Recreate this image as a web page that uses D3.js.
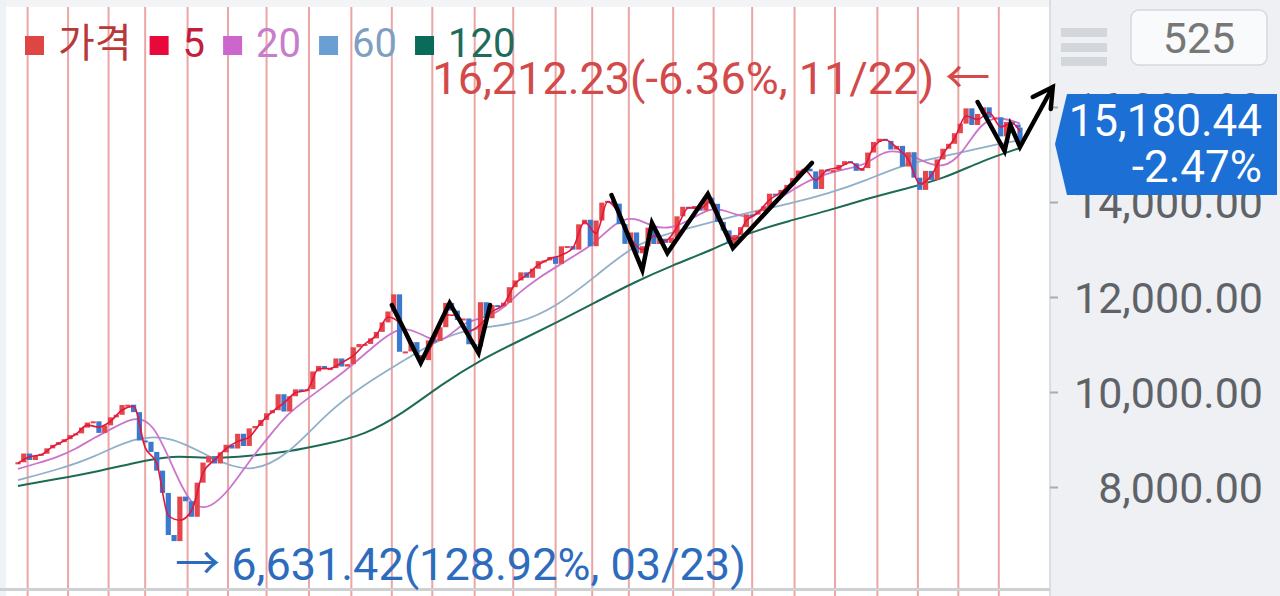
<!DOCTYPE html>
<html><head><meta charset="utf-8">
<script src="https://cdn.jsdelivr.net/npm/d3@7"></script>
<style>
html,body{margin:0;padding:0;background:#fff;overflow:hidden;}
svg{display:block;font-family:Roboto,"Noto Sans CJK KR",sans-serif;}
</style></head><body>
<svg id="c" width="1280" height="596"></svg>
<script>
// ---------- data (trading-day index, 0 = 2019-11-22, 520 = 2021-12-16) ----------
const closes = [8520,8705,8568,8656,8700,8814,8887,8945,9006,9092,9129,9250,9357,9383,9139,9298,9467,9520,9725,9733,9576,8980,8952,8738,8344,7875,6989,6861,7798,7700,
7373,8091,8515,8650,8495,8730,8889,8810,9121,8863,9234,9285,9412,9552,9616,9953,9589,9910,10056,10017,10059,10433,10548,10488,10503,10706,10536,10587,
10941,11010,11012,11129,11265,11466,11695,12056,10847,10854,11050,10779,10672,11086,11075,11364,11876,11714,11516,11548,11005,10957,11890,11553,11830,11801,11880,12206,
12349,12519,12406,12595,12755,12771,12843,12698,13067,13072,12998,13530,13626,13070,13610,13987,14025,13965,13533,13119,13359,12920,13069,13459,13116,13227,13139,13247,
13698,13900,13857,13914,13818,14090,13962,13582,13402,13125,13303,13471,13738,13736,13814,13911,14175,14161,14253,14360,14504,14663,14701,14645,14275,14685,14660,14672,
14780,14860,14816,14656,14714,15041,15265,15331,15287,15105,15182,14747,15048,14513,14255,14655,14465,14897,15122,15226,15448,15649,15971,15622,15853,15993,15775,15782,
15381,15687,15630,15566,15180.44];
const closeStep = 3;          // days between sampled candles
const lastDay = 520;
const ma5 = [8500,8636,8678,8850,8975,9110,9303,9261,9382,9622,9700,8830,8500,7400,7300,7500,8300,8570,8810,8960,9050,9350,9585,9770,9983,10038,10490,10495,10620,10764,
11011,11197,11580,11450,10952,10725,11080,11620,11615,11276,11423,11690,11840,12277,12462,12675,12807,12882,13035,13578,13340,14006,13749,13239,12995,13288,13183,13472,
13879,13866,14026,13492,13214,13605,13775,14043,14207,14432,14682,14460,14673,14726,14838,14685,15153,15309,15144,14898,14384,14560,15010,15337,15810,15738,15884,15582,15659,15480];
const ma5Step = 6;
const ma20 = [8380,8500,8620,8800,9050,9250,9480,9380,8450,7550,7550,7950,8550,9050,9550,9850,10150,10450,10800,11150,11400,11200,11000,11450,11550,11680,12100,12400,12650,12900,
13150,13580,13700,13450,13450,13650,13900,13780,13620,13950,14200,14450,14600,14700,14780,15100,15050,14850,14700,15000,15700,15800,15650];
const ma20Step = 10;
const ma60 = [8147,8358,8632,9053,9074,8611,8274,8653,9558,10168,10653,11158,11368,11432,11811,12442,13116,13368,13579,13789,13958,14168,14450,14800,14950,15150,15300];
const ma60Step = 20;
const ma120 = [8021,8168,8316,8505,8674,8590,8653,8737,8905,9095,9558,10168,10674,11074,11474,11895,12316,12674,12989,13368,13600,13811,14063,14274,14484,14863,15137];
const ma120Step = 20;
const monthStartDays = [5,26,47,66,88,109,129,151,173,194,215,237,257,279,298,317,340,361,381,403,424,446,467,488,509];
const yTicks = [8000,10000,12000,14000,16000];
const legendNames = ["가격","5","20","60","120"];
const highPoint = {day:503, value:16212.23, date:"11/22"};
const lowPoint = {day:81, value:6631.42, date:"03/23"};
const lastClose = 15180.44, prevClose = 15565.58;
const visibleCount = "525";
// hand-drawn annotation strokes, as [day, value]
const strokeW1 = [[194,11832],[209,10611],[224,11874],[239,10821],[245,11832]];
const strokeW2 = [[308,14147],[324,12568],[329,13558],[337,12926],[358,14168],[371,13032],[412,14821]];
const strokeW3 = [[498,16105],[512,15074],[515,15621],[520,15158],[537,16421]];

// ---------- setup ----------
const W = 1280, H = 596, panelX = 1050;
const svg = d3.select("#c");
const x = d3.scaleLinear().domain([0, lastDay]).range([18, 1020]);
const y = d3.scaleLinear().domain([8000, 16000]).range([487, 107]);
const loc = d3.formatLocale({decimal:".", thousands:",", grouping:[3], currency:["",""], minus:"-"});
const pct = loc.format(".2f"), num = loc.format(",.2f");

const seriesDays = (arr, step) => arr.map((v,i) => i === arr.length-1 ? lastDay : i*step);
const toPts = (arr, step) => { const d = seriesDays(arr, step); return arr.map((v,i)=>[d[i], v]); };

svg.append("rect").attr("width",W).attr("height",H).attr("fill","#fff");
svg.append("defs").append("clipPath").attr("id","plot").append("rect")
  .attr("x",0).attr("y",0).attr("width",panelX).attr("height",H);

const plot = svg.append("g").attr("clip-path","url(#plot)");
plot.append("rect").attr("x",0).attr("y",0).attr("width",panelX).attr("height",7).attr("fill","#f3f4f6");
plot.append("rect").attr("x",0).attr("y",0).attr("width",6).attr("height",H).attr("fill","#eef1f6");

// month separators
plot.selectAll("line.m").data(monthStartDays).join("line")
  .attr("x1",d=>x(d)).attr("x2",d=>x(d)).attr("y1",7).attr("y2",H)
  .attr("stroke","#eba5a5").attr("stroke-width",2);

// bottom border
plot.append("rect").attr("x",0).attr("y",588).attr("width",panelX).attr("height",3).attr("fill","#cfd0d2");

const line = d3.line().x(d=>x(d[0])).y(d=>y(d[1])).curve(d3.curveMonotoneX);
const lineB = d3.line().x(d=>x(d[0])).y(d=>y(d[1])).curve(d3.curveBasis);
plot.append("path").attr("d",lineB(toPts(ma120,ma120Step))).attr("fill","none").attr("stroke","#1d6b57").attr("stroke-width",2);
plot.append("path").attr("d",lineB(toPts(ma60,ma60Step))).attr("fill","none").attr("stroke","#8fb0c8").attr("stroke-width",1.8);
plot.append("path").attr("d",lineB(toPts(ma20,ma20Step))).attr("fill","none").attr("stroke","#cc74cc").attr("stroke-width",1.8);

// candles
const cDays = seriesDays(closes, closeStep);
const candles = closes.map((c,i)=>({day:cDays[i], open: i? closes[i-1] : c, close:c}));
plot.selectAll("rect.c").data(candles).join("rect")
  .attr("x",d=>x(d.day)-2.6).attr("width",5.2)
  .attr("y",d=>y(Math.max(d.open,d.close)))
  .attr("height",d=>Math.max(2, Math.abs(y(d.open)-y(d.close))))
  .attr("fill",d=>d.close>=d.open ? "#e4464a" : "#3d78cf");

plot.append("path").attr("d",line(toPts(ma5,ma5Step))).attr("fill","none").attr("stroke","#e2163e").attr("stroke-width",1.6);

// ---------- legend ----------
const legColors = ["#e04545","#e8083a","#cc66cc","#6a9fd4","#0b6b5a"];
const legText = ["#b73a3a","#c21f3e","#c77dcc","#7e9fc2","#1d6b5c"];
const leg = svg.append("g");
let lx = 25;
legendNames.forEach((n,i)=>{
  leg.append("rect").attr("x",lx).attr("y",36).attr("width",19).attr("height",19).attr("fill",legColors[i]);
  const t = leg.append("text").attr("x",lx+33).attr("y",57).attr("font-size",40).attr("fill",legText[i]).text(n);
  lx += 33 + t.node().getComputedTextLength() + 18;
});

// ---------- extremes ----------
svg.append("text").attr("x",x(highPoint.day)+3).attr("y",94).attr("text-anchor","end")
  .attr("font-size",45).attr("fill","#d24a4a")
  .text(`${num(highPoint.value)}(${pct((lastClose/highPoint.value-1)*100)}%, ${highPoint.date}) ←`);
svg.append("text").attr("x",x(lowPoint.day)+1).attr("y",580)
  .attr("font-size",45).attr("fill","#2d6cbd")
  .text(`→ ${num(lowPoint.value)}(${pct((lastClose/lowPoint.value-1)*100)}%, ${lowPoint.date})`);

// ---------- right panel ----------
svg.append("rect").attr("x",panelX).attr("y",0).attr("width",W-panelX).attr("height",H).attr("fill","#eef0f3");
svg.append("line").attr("x1",panelX).attr("x2",panelX).attr("y1",0).attr("y2",H).attr("stroke","#d3d5d9").attr("stroke-width",1.5);
const ax = svg.append("g").attr("transform",`translate(${panelX},0)`)
  .call(d3.axisRight(y).tickValues(yTicks).tickFormat(num).tickSize(8));
ax.select(".domain").remove();
ax.selectAll(".tick line").attr("stroke","#a9abb0").attr("stroke-width",2);
ax.selectAll(".tick text").attr("x",213).attr("text-anchor","end").attr("font-size",43)
  .attr("fill","#5f6368").attr("font-family","Roboto").attr("dy","0.35em");

// menu icon
[28,43,57].forEach(v=>svg.append("rect").attr("x",1061).attr("y",v).attr("width",46).attr("height",9).attr("fill","#d3d6db"));
// count box
svg.append("rect").attr("x",1131).attr("y",10).attr("width",136).attr("height",55).attr("rx",8)
  .attr("fill","#f9fafb").attr("stroke","#d5d8dc").attr("stroke-width",1.5);
svg.append("text").attr("x",1199).attr("y",53).attr("text-anchor","middle").attr("font-size",43).attr("fill","#777").text(visibleCount);

// current price tag
const ly = y(lastClose);
svg.append("path").attr("d",`M1055,${ly-2} L1067,${ly-52} L1277,${ly-52} L1277,${ly+49} L1067,${ly+49} Z`).attr("fill","#1b6fd5");
svg.append("text").attr("x",1262).attr("y",ly-10).attr("text-anchor","end").attr("font-size",44).attr("fill","#fff").text(num(lastClose));
svg.append("text").attr("x",1262).attr("y",ly+36).attr("text-anchor","end").attr("font-size",44).attr("fill","#fff")
  .text(`${pct((lastClose/prevClose-1)*100)}%`);

// ---------- hand-drawn strokes ----------
const sline = d3.line().x(d=>x(d[0])).y(d=>y(d[1]));
[strokeW1,strokeW2,strokeW3].forEach(s=>svg.append("path").attr("d",sline(s)).attr("fill","none")
  .attr("stroke","#000").attr("stroke-width",4.5).attr("stroke-linejoin","miter").attr("stroke-linecap","round"));
const tip = strokeW3[strokeW3.length-1], tx = x(tip[0]), ty = y(tip[1]);
svg.append("path").attr("d",`M${tx-20},${ty+10} L${tx},${ty} L${tx-2},${ty+22}`).attr("fill","none")
  .attr("stroke","#000").attr("stroke-width",4.5).attr("stroke-linejoin","miter").attr("stroke-linecap","round");
</script>
</body></html>
